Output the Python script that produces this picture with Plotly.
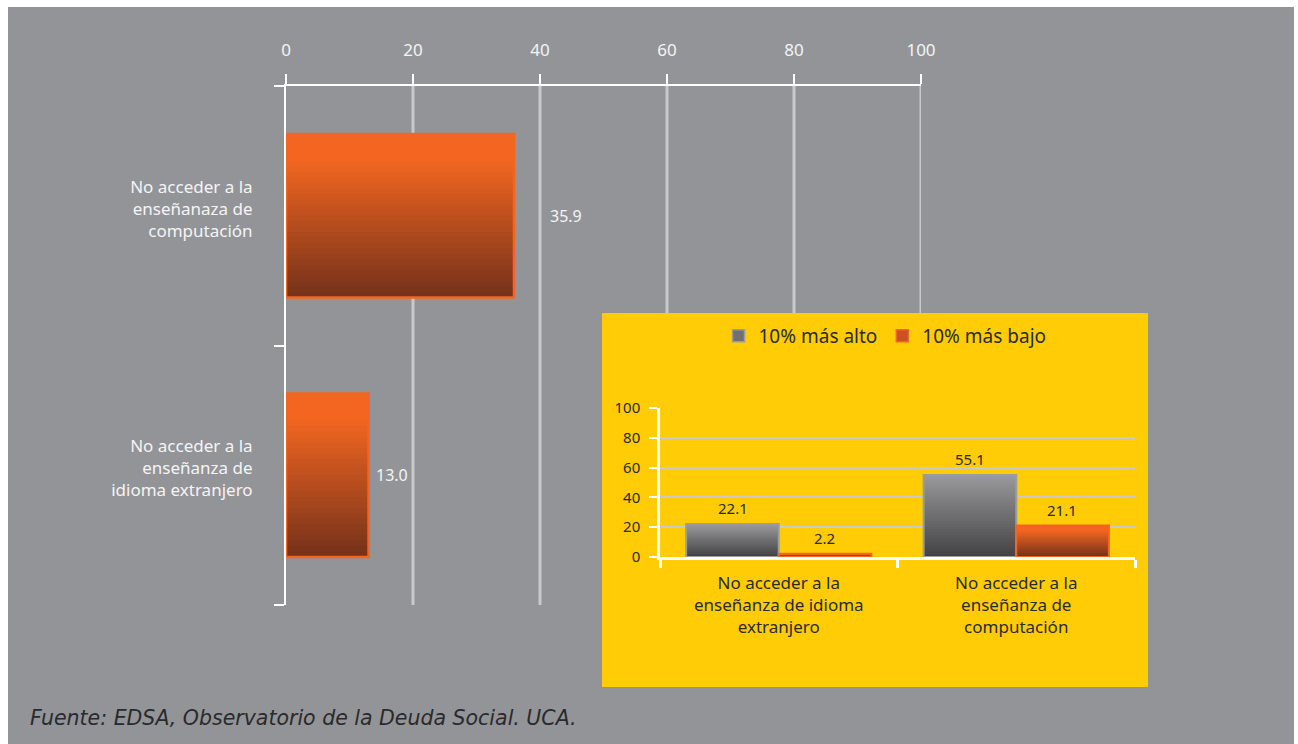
import plotly.graph_objects as go

# ---------------- data ----------------
main_categories = ["No acceder a la<br>enseñanza de<br>idioma extranjero",
                   "No acceder a la<br>enseñanaza de<br>computación"]
main_values = [13.0, 35.9]
main_ticks = [0, 20, 40, 60, 80, 100]

inset_categories = ["No acceder a la<br>enseñanza de idioma<br>extranjero",
                    "No acceder a la<br>enseñanza de<br>computación"]
alto_values = [22.1, 55.1]
bajo_values = [2.2, 21.1]
series_names = ["10% más alto", "10% más bajo"]
inset_ticks = [0, 20, 40, 60, 80, 100]
source_text = "Fuente: EDSA, Observatorio de la Deuda Social. UCA."

# ---------------- style ----------------
W, H = 1298, 744
FONT = "Noto Sans"
ORANGE = (243, 102, 33)
BROWN = (115, 49, 26)
GRAY_TOP = (154, 154, 156)
GRAY_BOT = (66, 66, 68)
BG_GRAY = "#939498"
YELLOW = "#FFCC05"
GRID = "#c9c9cb"
N = 30


def px_x(p):
    return p / W


def px_y(p):
    return 1 - p / H


def mix(c1, c2, t):
    return "rgb(%d,%d,%d)" % tuple(round(a + (b - a) * t) for a, b in zip(c1, c2))


def orange_grad(t):  # t=0 top, t=1 bottom
    if t < 0.15:
        return mix(ORANGE, ORANGE, 0)
    return mix(ORANGE, BROWN, (t - 0.15) / 0.85)


fig = go.Figure()

# ---- main horizontal bars (vertical gradient across thickness) ----
bar_w = 0.63
h = bar_w / N
for k in range(N):
    t = (k + 0.5) / N
    fig.add_trace(go.Bar(
        y=main_categories, x=main_values, orientation="h",
        offset=-bar_w / 2, width=bar_w - k * h,
        marker=dict(color=orange_grad(t), line=dict(width=0)),
        showlegend=False, hoverinfo="skip", xaxis="x", yaxis="y"))
fig.add_trace(go.Bar(
    y=main_categories, x=main_values, orientation="h",
    offset=-bar_w / 2, width=bar_w,
    marker=dict(color="rgba(0,0,0,0)", line=dict(color="#F26522", width=2.5)),
    showlegend=False, hoverinfo="skip", xaxis="x", yaxis="y"))

# ---- inset grouped vertical bars (gradient along bar height) ----
gw = 0.39
for vals, is_orange, off, outline in [
        (alto_values, False, -gw, "#9c9c9e"),
        (bajo_values, True, 0.0, "#F26522")]:
    for k in range(N):
        t = (k + 0.5) / N  # 0 top, 1 bottom
        col = orange_grad(t) if is_orange else mix(GRAY_TOP, GRAY_BOT, t)
        fig.add_trace(go.Bar(
            x=inset_categories, y=[v * (N - k) / N for v in vals],
            offset=off, width=gw,
            marker=dict(color=col, line=dict(width=0)),
            showlegend=False, hoverinfo="skip", xaxis="x2", yaxis="y2"))
    fig.add_trace(go.Bar(
        x=inset_categories, y=vals, offset=off, width=gw,
        marker=dict(color="rgba(0,0,0,0)", line=dict(color=outline, width=2)),
        showlegend=False, hoverinfo="skip", xaxis="x2", yaxis="y2"))

# legend entries
fig.add_trace(go.Bar(x=[None], y=[None], name=series_names[0], xaxis="x2", yaxis="y2",
                     marker=dict(color="#707072", line=dict(color="#9c9c9e", width=1.5))))
fig.add_trace(go.Bar(x=[None], y=[None], name=series_names[1], xaxis="x2", yaxis="y2",
                     marker=dict(color="#c9521f", line=dict(color="#F26522", width=1.5))))

# ---------------- shapes ----------------
shapes = [dict(type="rect", xref="paper", yref="paper", layer="below",
               x0=px_x(8), x1=px_x(1294), y0=0, y1=px_y(7),
               fillcolor=BG_GRAY, line=dict(width=0))]
for t in main_ticks[1:]:
    shapes.append(dict(type="line", xref="x", yref="y domain", layer="below",
                       x0=t, x1=t, y0=0, y1=1, line=dict(color=GRID, width=3)))
shapes.append(dict(type="rect", xref="paper", yref="paper", layer="below",
                   x0=px_x(602), x1=px_x(1148), y0=px_y(687), y1=px_y(313),
                   fillcolor=YELLOW, line=dict(width=0)))

# ---------------- annotations ----------------
annotations = []
main_label_shift = [5, 34]
for cat, v, s in zip(main_categories, main_values, main_label_shift):
    annotations.append(dict(x=v, y=cat, xref="x", yref="y", text="%.1f" % v,
                            xanchor="left", yanchor="middle", xshift=s, showarrow=False,
                            font=dict(family=FONT, size=16, color="#f4f4f4")))
for vals, sh in [(alto_values, -46), (bajo_values, 46)]:
    for cat, v in zip(inset_categories, vals):
        annotations.append(dict(x=cat, y=v, xref="x2", yref="y2", text="%.1f" % v,
                                xanchor="center", yanchor="bottom", xshift=sh, yshift=4,
                                showarrow=False,
                                font=dict(family=FONT, size=15, color="#2b2b2b")))
annotations.append(dict(x=px_x(28), y=px_y(718), xref="paper", yref="paper",
                        text="<i>" + source_text + "</i>", xanchor="left", yanchor="middle",
                        showarrow=False,
                        font=dict(family="DejaVu Sans", size=20.5, color="#2a2a2c")))

fig.update_layout(
    width=W, height=H,
    margin=dict(l=0, r=0, t=0, b=0, pad=0, autoexpand=False),
    paper_bgcolor="white", plot_bgcolor="rgba(0,0,0,0)",
    barmode="overlay", hovermode=False,
    font=dict(family=FONT),
    shapes=shapes, annotations=annotations,
    xaxis=dict(domain=[px_x(286), px_x(921)], range=[0, 100], side="top",
               tickvals=main_ticks, showgrid=False, zeroline=False,
               showline=True, linecolor="white", linewidth=2,
               ticks="outside", ticklen=10, tickwidth=2, tickcolor="white",
               tickfont=dict(family=FONT, size=17, color="#f4f4f4"),
               ticklabelstandoff=11, fixedrange=True, automargin=False),
    yaxis=dict(domain=[px_y(605), px_y(86)], type="category",
               categoryorder="array", categoryarray=main_categories,
               range=[-0.5, 1.5], tickson="boundaries",
               showgrid=False, zeroline=False,
               showline=True, linecolor="white", linewidth=2,
               ticks="outside", ticklen=10, tickwidth=2, tickcolor="white",
               tickfont=dict(family=FONT, size=17, color="#f4f4f4"),
               ticklabelstandoff=28, ticklabelshift=-7,
               fixedrange=True, automargin=False),
    xaxis2=dict(domain=[px_x(660), px_x(1135)], anchor="y2", type="category",
                categoryorder="array", categoryarray=inset_categories,
                range=[-0.5, 1.5], tickson="boundaries",
                showgrid=False, zeroline=False,
                showline=True, linecolor="white", linewidth=2.5,
                ticks="outside", ticklen=8, tickwidth=2.5, tickcolor="white",
                tickfont=dict(family=FONT, size=17, color="#2b2b2b"),
                ticklabelstandoff=9, fixedrange=True, automargin=False),
    yaxis2=dict(domain=[px_y(557), px_y(408)], anchor="x2", range=[0, 100],
                tickvals=inset_ticks, showgrid=True, gridcolor=GRID, gridwidth=2,
                zeroline=False, showline=True, linecolor="white", linewidth=2.5,
                ticks="outside", ticklen=8, tickwidth=2, tickcolor="white",
                tickfont=dict(family=FONT, size=15, color="#2b2b2b"),
                ticklabelstandoff=6, fixedrange=True, automargin=False),
    legend=dict(orientation="h", x=px_x(885), y=px_y(336), xanchor="center",
                yanchor="middle", bgcolor="rgba(0,0,0,0)",
                font=dict(family=FONT, size=19, color="#2b2b2b"),
                itemwidth=30, tracegroupgap=0),
)

fig.write_html(
    "out.html",
    config={"displayModeBar": False, "responsive": False},
    post_script=("document.body.style.margin='0';"
                 "document.body.style.overflow='hidden';"
                 "document.documentElement.style.overflow='hidden';"),
)
